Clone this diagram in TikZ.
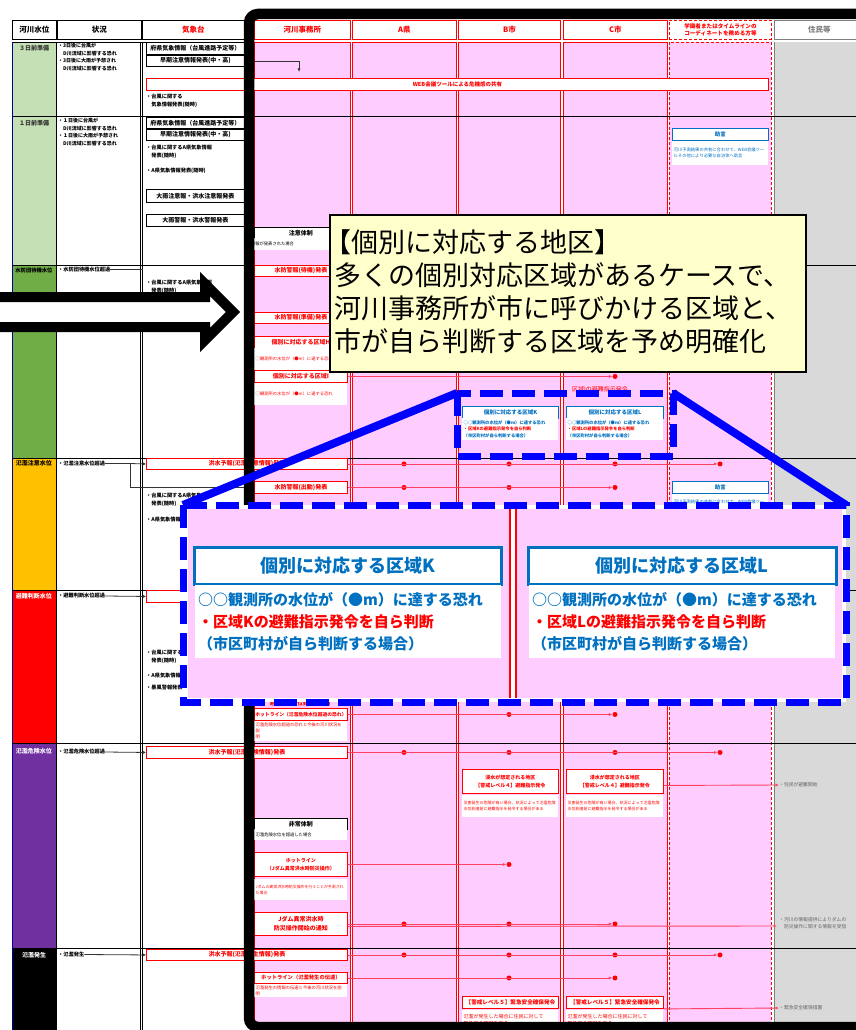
\documentclass[tikz,border=0pt]{standalone}
\usepackage{fontspec}
\setmainfont{Noto Sans CJK JP}
\XeTeXlinebreaklocale "ja"
\usetikzlibrary{calc, positioning, arrows.meta}

\definecolor{zonepink}{HTML}{FFCCFF}
\definecolor{prepgreen}{HTML}{C5E0B4}
\definecolor{waitgreen}{HTML}{70AD47}
\definecolor{warnamber}{HTML}{FFC000}
\definecolor{dangerpurple}{HTML}{7030A0}
\definecolor{residentgray}{HTML}{D9D9D9}
\definecolor{noteyellow}{HTML}{FFFFCC}
\definecolor{zoomblue}{HTML}{0000FF}
\definecolor{adviceblue}{HTML}{0070C0}
\definecolor{linkred}{HTML}{FF4060}

\begin{document}
\begin{tikzpicture}[x=1pt, y=-1pt,
    hdr/.style={draw=black, line width=0.9pt, fill=white, inner sep=0pt, anchor=north west,
      minimum height=19pt, align=center, font=\fontsize{7.5}{9}\selectfont\bfseries},
    redbox/.style={draw=red, line width=0.9pt, fill=white, text=red, inner sep=0pt,
      anchor=north west, align=center, font=\fontsize{6}{7.5}\selectfont\bfseries},
    blackbox/.style={redbox, draw=black, text=black},
    bluebox/.style={redbox, draw=adviceblue, text=adviceblue},
    notebox/.style={fill=white, inner sep=1.5pt, anchor=north west, align=left, text=red,
      font=\fontsize{4.3}{6.2}\selectfont},
    plain/.style={inner sep=0pt, anchor=north west, align=left,
      font=\fontsize{5.2}{7.7}\selectfont\bfseries},
    lvl/.style={inner sep=0pt, font=\fontsize{6}{7}\selectfont\bfseries},
    reddot/.style={circle, fill=red, inner sep=0pt, minimum size=5pt},
    link/.style={linkred, line width=0.9pt},
    feed/.style={black!80, line width=0.8pt},
    zoomframe/.style={zoomblue, line width=7pt, dash pattern=on 23pt off 9pt},
    zoomline/.style={zoomblue, line width=8pt},
  ]
  \useasboundingbox[fill=white] (0,0) rectangle (856,1030);

  % water level column
  \fill[prepgreen] (12,42) rectangle (56,116);
  \fill[prepgreen] (12,117) rectangle (56,265);
  \fill[waitgreen] (12,265) rectangle (56,458);
  \fill[warnamber] (12,458) rectangle (56,590);
  \fill[red] (12,590) rectangle (56,743);
  \fill[dangerpurple] (12,743) rectangle (56,948);
  \fill[black] (12,948) rectangle (56,1030);
  \node[lvl, text=black!80] (lv1) at (34,48) {３日前準備};
  \node[lvl, text=black!80] (lv2) at (34,123) {１日前準備};
  \node[lvl, font=\fontsize{5.3}{6}\selectfont\bfseries] (lv3) at (34,270) {水防団待機水位};
  \node[lvl] (lv4) at (34,463) {氾濫注意水位};
  \node[lvl, text=white] (lv5) at (34,596) {避難判断水位};
  \node[lvl, text=white] (lv6) at (34,751) {氾濫危険水位};
  \node[lvl, text=white] (lv7) at (34,955) {氾濫発生};

  % agency columns
  \foreach \xa/\xb in {254/350, 352/456, 458/560, 563/667}
    \draw[red, line width=0.9pt, fill=zonepink] (\xa,42) rectangle (\xb,1040);
  \draw[red, line width=0.9pt, dash pattern=on 3pt off 2pt, fill=zonepink] (669,42) rectangle (771,1040);
  \fill[residentgray] (774,42) rectangle (860,1040);
  \draw[gray, line width=0.9pt] (774,42) -- (774,1040);

  % grid
  \foreach \yy in {116.5, 265, 458, 590.5, 743, 948}
    \draw[black, line width=0.9pt] (12,\yy) -- (856,\yy);
  \draw[black, line width=0.9pt] (12,42) -- (244,42);
  \draw[blue!60!black, line width=1pt] (12,42) -- (12,1030);
  \foreach \xx in {56.5, 140.5, 142.5}
    \draw[black, line width=0.8pt] (\xx,42) -- (\xx,1030);

  % headers
  \node[hdr, minimum width=44] (hLevel) at (12,20) {河川水位};
  \node[hdr, minimum width=84] (hState) at (57,20) {状況};
  \node[hdr, minimum width=102, text=red] (hJma) at (142,20) {気象台};
  \node[hdr, minimum width=96, draw=red, text=red] (hOffice) at (254,20) {河川事務所};
  \node[hdr, minimum width=104, draw=red, text=red] (hPref) at (352,20) {A県};
  \node[hdr, minimum width=102, draw=red, text=red] (hCityB) at (458,20) {B市};
  \node[hdr, minimum width=104, draw=red, text=red] (hCityC) at (563,20) {C市};
  \node[hdr, minimum width=102, draw=red, text=red, dash pattern=on 3pt off 2pt,
    font=\fontsize{5.6}{7.5}\selectfont\bfseries] (hCoord) at (669,20) {学識者またはタイムラインの\\コーディネートを務める方等};
  \node[hdr, minimum width=90, draw=gray, text=gray] (hResident) at (774,20) {住民等};

  % situation column
  \node[plain, font=\fontsize{5}{7.7}\selectfont\bfseries] (st1) at (58,43) {・3日後に台風が\\　D川流域に影響する恐れ\\・3日後に大雨が予想され\\　D川流域に影響する恐れ};
  \node[plain, font=\fontsize{5}{7.7}\selectfont\bfseries] (st2) at (58,118) {・１日後に台風が\\　D川流域に影響する恐れ\\・１日後に大雨が予想され\\　D川流域に影響する恐れ};
  \node[plain, anchor=west] (st3) at (58,269.5) {・水防団待機水位超過};
  \node[plain, anchor=west] (st4) at (58,463.5) {・氾濫注意水位超過};
  \node[plain, anchor=west] (st5) at (58,596) {・避難判断水位超過};
  \node[plain, anchor=west] (st6) at (58,752) {・氾濫危険水位超過};
  \node[plain, anchor=west] (st7) at (58,954.5) {・氾濫発生};

  % weather office column
  \node[blackbox, minimum width=98, minimum height=12] (kf1) at (146,42) {府県気象情報（台風進路予定等）};
  \node[blackbox, minimum width=98, minimum height=11] (kf2) at (146,55) {早期注意情報発表(中・高)};
  \node[redbox, minimum width=622, minimum height=12, font=\fontsize{5.5}{7}\selectfont\bfseries] (web) at (146,78) {WEB会議ツールによる危機感の共有};
  \coordinate (webIn) at (299,72);
  \draw[feed, -{Latex[length=3.5pt,width=3pt]}] (kf2.east) -| (webIn);
  \node[plain] (kf1txt) at (146,94) {・台風に関する\\　気象情報発表(随時)};
  \node[blackbox, minimum width=98, minimum height=11] (kf3) at (146,117) {府県気象情報（台風進路予定等）};
  \node[blackbox, minimum width=98, minimum height=11] (kf4) at (146,129) {早期注意情報発表(中・高)};
  \node[plain] (kf2txt) at (146,145) {・台風に関するA県気象情報\\　発表(随時)};
  \node[plain] (kf3txt) at (146,168) {・A県気象情報発表(随時)};
  \node[blackbox, minimum width=98, minimum height=13] (kf5) at (146,189) {大雨注意報・洪水注意報発表};
  \node[blackbox, minimum width=98, minimum height=12] (kf6) at (146,214) {大雨警報・洪水警報発表};
  \node[plain] (kf4txt) at (146,280) {・台風に関するA県気象情報\\　発表(随時)};
  \node[plain] (kf5txt) at (146,493) {・台風に関するA県気象情報\\　発表(随時)};
  \node[plain] (kf6txt) at (146,517) {・A県気象情報発表(随時)};
  \node[plain] (kf7txt) at (146,650) {・台風に関するA県気象情報\\　発表(随時)};
  \node[plain] (kf8txt) at (146,673) {・A県気象情報発表(随時)};
  \node[plain] (kf9txt) at (146,685) {・暴風警報発表};

  % river office column
  \node[blackbox, minimum width=93, minimum height=11] (chui) at (254,227) {注意体制};
  \node[notebox, text=black, minimum width=93, minimum height=12, text width=90] (chuiNote) at (254,238) {\hspace*{-9pt}注意報が発表された場合};
  \node[redbox, minimum width=93, minimum height=11] (suibo1) at (254,265) {水防警報(待機)発表};
  \node[redbox, minimum width=93, minimum height=11] (suibo2) at (254,312) {水防警報(準備)発表};
  \node[redbox, minimum width=93, minimum height=12] (kuH) at (254,336) {個別に対応する区域H};
  \node[notebox, minimum width=93, minimum height=22, text width=90] (kuHnote) at (254,348) {○観測所の水位が（●m）に達する恐れ};
  \node[redbox, minimum width=93, minimum height=12] (kuI) at (254,370) {個別に対応する区域I};
  \node[notebox, minimum width=93, minimum height=22, text width=90] (kuInote) at (254,383) {○観測所の水位が（●m）に達する恐れ};
  \node[redbox, minimum width=201, minimum height=11] (kozuiA) at (146,458) {洪水予報(氾濫注意情報)発表};
  \node[redbox, minimum width=93, minimum height=12] (suibo3) at (254,481) {水防警報(出動)発表};
  \node[redbox, minimum width=201, minimum height=12] (kozuiB) at (146,590) {};
  \node[inner sep=0pt, text=red, font=\fontsize{5.5}{7}\selectfont\bfseries] (hinanTsuchi) at (300,703) {避難判断水位到達の通知};
  \node[redbox, minimum width=93, minimum height=12, font=\fontsize{4.8}{6}\selectfont\bfseries] (hot1) at (254,708) {ホットライン（氾濫危険水位超過の恐れ）};
  \node[notebox, minimum width=93, minimum height=17, text width=90] (hot1note) at (254,721) {氾濫危険水位超過の恐れと今後の河川状況を説\\明};
  \node[redbox, minimum width=201, minimum height=12] (kozuiC) at (146,746) {洪水予報(氾濫危険情報)発表};
  \node[blackbox, minimum width=93, minimum height=11] (hijo) at (254,818) {非常体制};
  \node[notebox, text=black, minimum width=93, minimum height=11, text width=90] (hijoNote) at (254,829) {氾濫危険水位を超過した場合};
  \node[redbox, minimum width=93, minimum height=24, font=\fontsize{5}{8}\selectfont\bfseries] (hot2) at (254,852) {ホットライン\\（Jダム異常洪水時防災操作）};
  \node[notebox, minimum width=93, minimum height=21, text width=90, font=\fontsize{3.9}{6.2}\selectfont] (hot2note) at (254,879) {Jダムの異常洪水時防災操作を行うことが予測され\\た場合};
  \node[redbox, minimum width=93, minimum height=23, font=\fontsize{6}{9}\selectfont\bfseries] (damu) at (254,912) {Jダム異常洪水時\\防災操作開始の通知};
  \node[redbox, minimum width=201, minimum height=11] (kozuiD) at (146,949) {洪水予報(氾濫発生情報)発表};
  \node[redbox, minimum width=93, minimum height=11, font=\fontsize{5.3}{7}\selectfont\bfseries] (hot3) at (254,972) {ホットライン（氾濫発生の伝達）};
  \node[notebox, minimum width=93, minimum height=12, text width=90] (hot3note) at (254,984) {氾濫発生の情報の伝達と今後の河川状況を説明};

  % situation -> weather office
  \coordinate (kfEdge) at (142.5,269.5);
  \draw[feed] (st3.east) -- (kfEdge);
  \coordinate (fork) at (130,463.5);
  \draw[feed] (st4.east) -- (fork);
  \draw[feed, -{Latex[length=3pt,width=3pt]}] (fork) -- (kozuiA.west);
  \draw[feed] (fork) |- (suibo3.west);
  \draw[feed, -{Latex[length=3pt,width=3pt]}] (st5.east) -- (kozuiB.west);
  \draw[feed, -{Latex[length=3pt,width=3pt]}] (st6.east) -- (kozuiC.west);
  \draw[feed, -{Latex[length=3pt,width=3pt]}] (st7.east) -- (kozuiD.west);

  % city columns
  \node[bluebox, minimum width=96, minimum height=12, font=\fontsize{5.5}{7}\selectfont\bfseries] (smallK) at (462,406) {個別に対応する区域K};
  \node[notebox, minimum width=96, minimum height=22, text width=93, font=\fontsize{4.3}{6.5}\selectfont\bfseries] (smallKnote) at (462,418) {\textcolor{adviceblue}{○○観測所の水位が（●m）に達する恐れ}\\・区域Kの避難指示発令を自ら判断\\\textcolor{adviceblue}{（市区町村が自ら判断する場合）}};
  \node[bluebox, minimum width=97, minimum height=12, font=\fontsize{5.5}{7}\selectfont\bfseries] (smallL) at (566,406) {個別に対応する区域L};
  \node[notebox, minimum width=97, minimum height=22, text width=94, font=\fontsize{4.3}{6.5}\selectfont\bfseries] (smallLnote) at (566,418) {\textcolor{adviceblue}{○○観測所の水位が（●m）に達する恐れ}\\・区域Lの避難指示発令を自ら判断\\\textcolor{adviceblue}{（市区町村が自ら判断する場合）}};
  \node[inner sep=0pt, text=red, font=\fontsize{6}{7}\selectfont] (zoneIorder) at (600,389) {区域Iの避難指示発令};
  \foreach \cx/\cw/\cn in {462/96/B, 566/97/C} {
    \node[redbox, minimum width=\cw, minimum height=24, font=\fontsize{5}{8}\selectfont\bfseries] (lv4\cn) at (\cx,769) {浸水が想定される地区\\【警戒レベル４】避難指示発令};
    \node[notebox, minimum width=\cw, minimum height=22, text width=\cw-3, font=\fontsize{4}{6.5}\selectfont] (lv4\cn note) at (\cx,795) {災害発生の危険が高い場合、状況によって氾濫危険\\水位到達前に避難指示を発令する場合がある};
    \node[redbox, minimum width=\cw, minimum height=12, font=\fontsize{5.6}{7}\selectfont\bfseries] (lv5\cn) at (\cx,996) {【警戒レベル５】緊急安全確保発令};
    \node[notebox, minimum width=\cw, minimum height=20, text width=\cw-3, font=\fontsize{5}{7.5}\selectfont] (lv5\cn note) at (\cx,1010) {氾濫が発生した場合に住民に対して\\緊急安全確保を発令};
  }

  % coordinator column
  \node[bluebox, minimum width=96, minimum height=12, font=\fontsize{5.5}{7}\selectfont\bfseries] (advice1) at (672,128) {助言};
  \node[notebox, text=adviceblue, minimum width=96, minimum height=24, text width=93] (advice1note) at (672,141) {河川予測結果の共有に合わせて、WEB会議ツー\\ルその他により必要な自治体へ助言};
  \node[bluebox, minimum width=96, minimum height=12, font=\fontsize{5.5}{7}\selectfont\bfseries] (advice2) at (672,481) {助言};
  \node[notebox, text=adviceblue, minimum width=96, minimum height=22, text width=93] (advice2note) at (672,494) {河川予測結果の共有に合わせて、WEB会議ツー\\ルその他により必要な自治体へ助言};

  % residents column
  \node[inner sep=0pt, anchor=west, text=gray!80!black, font=\fontsize{4.8}{7}\selectfont] (res1) at (779,785) {・住民が避難開始};
  \node[inner sep=0pt, anchor=west, align=left, text=gray!80!black, font=\fontsize{4.8}{7}\selectfont] (res2) at (779,923) {・河川の情報提供によりダムの\\　防災操作に関する情報を受信};
  \coordinate (res2in) at (777,926);
  \node[inner sep=0pt, anchor=west, text=gray!80!black, font=\fontsize{4.8}{7}\selectfont] (res3) at (779,1008) {・緊急安全確保措置};

  % alerts passed along the rows
  \foreach \src/\stops/\last in {kuI/{615}/615, kozuiA/{404,509,615,720}/720,
      suibo3/{404,509,615}/615, hot1/{509,615}/615, kozuiC/{404,509,615,720}/720,
      hot2/{509}/509, damu/{404,509,615}/615, kozuiD/{404,509,615,720}/720, hot3/{509,615}/615} {
    \foreach \x in \stops
      \node[reddot] (\src-\x) at (\src.east -| \x,0) {};
    \draw[link, -{Latex[length=3.5pt,width=3pt]}] (\src.east) -- (\src-\last.west);
  }
  \draw[link, -{Latex[length=3.5pt,width=3pt]}] ($(lv4C.east)+(0,4)$) -- (res1.west);
  \draw[link, -{Latex[length=3.5pt,width=3pt]}] ($(damu.east)+(0,2.5)$) -- (res2in);
  \draw[link, -{Latex[length=3.5pt,width=3pt]}] (lv5C.south east) -- (res3.west);

  % frame around the agency part
  \draw[black, line width=10.5pt, rounded corners=9pt] (249,14) rectangle (920,1027);

  % callout
  \node[draw=black, line width=1.5pt, fill=noteyellow, minimum width=476, minimum height=157,
    anchor=north west, inner sep=0pt] (callout) at (329,214) {};
  \node[inner sep=0pt, anchor=north west, align=left, font=\fontsize{27}{33}\selectfont] (calloutText) at (334,229) {\hspace*{-10pt}【個別に対応する地区】\\多くの個別対応区域があるケースで、\\河川事務所が市に呼びかける区域と、\\市が自ら判断する区域を予め明確化};

  % big arrow
  \draw[black, line width=10pt, fill=white, line join=miter]
    (-20,297) -- (205,297) -- (205,284) -- (233,312) -- (205,340) -- (205,327) -- (-20,327) -- cycle;

  % zoom of zones K and L
  \coordinate (srcNW) at (457,393);
  \coordinate (srcNE) at (673,393);
  \coordinate (bigNW) at (183,505);
  \coordinate (bigNE) at (846,505);
  \draw[zoomframe] (457,393) rectangle (673,456);
  \draw[zoomline] (srcNW) -- (bigNW);
  \draw[zoomline] (srcNE) -- (bigNE);
  \fill[white] (183,505) rectangle (846,702);
  \fill[zonepink] (188,509) rectangle (842,698);
  \fill[white] (510,509) rectangle (516,698);
  \draw[red, line width=1.5pt] (510,509) -- (510,698) (516,509) -- (516,698);
  \node[bluebox, line width=2.5pt, minimum width=307, minimum height=37,
    font=\fontsize{18}{20}\selectfont\bfseries] (bigK) at (193,546) {個別に対応する区域K};
  \node[notebox, minimum width=305, minimum height=73, text width=300, inner sep=3pt,
    font=\fontsize{15}{22}\selectfont\bfseries] (bigKnote) at (195,585) {\textcolor{adviceblue}{○○観測所の水位が（●m）に達する恐れ}\\・区域Kの避難指示発令を自ら判断\\\textcolor{adviceblue}{（市区町村が自ら判断する場合）}};
  \node[bluebox, line width=2.5pt, minimum width=308, minimum height=37,
    font=\fontsize{18}{20}\selectfont\bfseries] (bigL) at (527,546) {個別に対応する区域L};
  \node[notebox, minimum width=306, minimum height=73, text width=300, inner sep=3pt,
    font=\fontsize{15}{22}\selectfont\bfseries] (bigLnote) at (529,585) {\textcolor{adviceblue}{○○観測所の水位が（●m）に達する恐れ}\\・区域Lの避難指示発令を自ら判断\\\textcolor{adviceblue}{（市区町村が自ら判断する場合）}};
  \draw[zoomframe] (183,505) rectangle (846,702);
\end{tikzpicture}
\end{document}
